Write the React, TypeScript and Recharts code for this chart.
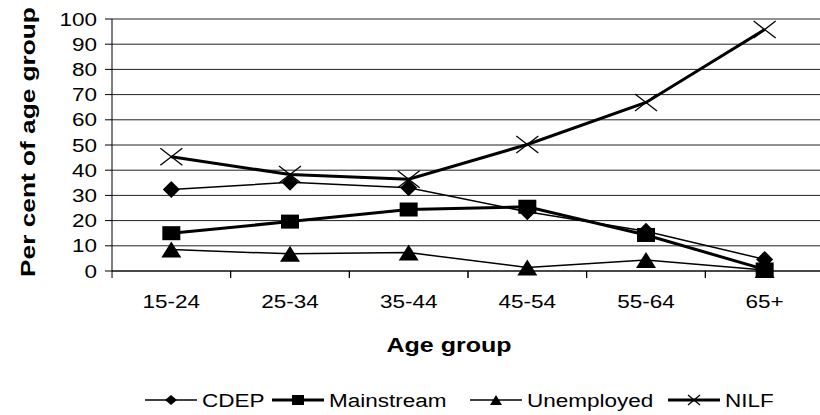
import React from 'react'
import { LineChart, Line, XAxis, YAxis, CartesianGrid, Legend } from 'recharts'

const ageGroups = ['15-24', '25-34', '35-44', '45-54', '55-64', '65+']
const cdep = [32.3, 35.2, 33.0, 23.5, 15.8, 4.6]
const mainstream = [15.0, 19.6, 24.4, 25.5, 14.3, 0.6]
const unemployed = [8.5, 6.8, 7.3, 1.4, 4.4, 0.4]
const nilf = [45.3, 38.3, 36.4, 50.2, 66.9, 95.8]
const yTicks = [0, 10, 20, 30, 40, 50, 60, 70, 80, 90, 100]

const data = ageGroups.map((g, i) => ({
  group: g,
  cdep: cdep[i],
  mainstream: mainstream[i],
  unemployed: unemployed[i],
  nilf: nilf[i],
}))

const FONT = 'Arial, "Liberation Sans", sans-serif'
const SX = 1.25 // text in the original is drawn wide
const HALF_BAND = 59.3

type Shape = 'diamond' | 'square' | 'triangle' | 'cross'

const series: { key: string; name: string; shape: Shape; width: number; lx: number }[] = [
  { key: 'cdep', name: 'CDEP', shape: 'diamond', width: 1.5, lx: 145 },
  { key: 'mainstream', name: 'Mainstream', shape: 'square', width: 3, lx: 272 },
  { key: 'unemployed', name: 'Unemployed', shape: 'triangle', width: 1.5, lx: 470 },
  { key: 'nilf', name: 'NILF', shape: 'cross', width: 3, lx: 668 },
]

// w/h are half sizes
function marker(shape: Shape, cx: number, cy: number, w: number, h: number, key?: string) {
  if (shape === 'diamond') {
    return <polygon key={key} points={`${cx},${cy - h} ${cx + w},${cy} ${cx},${cy + h} ${cx - w},${cy}`} fill="#000" />
  }
  if (shape === 'square') {
    return <rect key={key} x={cx - w} y={cy - h} width={w * 2} height={h * 2} fill="#000" />
  }
  if (shape === 'triangle') {
    return <polygon key={key} points={`${cx},${cy - h} ${cx + w},${cy + h} ${cx - w},${cy + h}`} fill="#000" />
  }
  return (
    <g key={key} stroke="#000" strokeWidth={1.3}>
      <line x1={cx - w} y1={cy - h} x2={cx + w} y2={cy + h} />
      <line x1={cx - w} y1={cy + h} x2={cx + w} y2={cy - h} />
    </g>
  )
}

const markerSize: Record<Shape, [number, number]> = {
  diamond: [8.5, 8.5],
  square: [9, 7],
  triangle: [10, 8],
  cross: [11, 8.5],
}

const WideText = ({ x, y, anchor = 'start', size, bold, rotate, children }: any) => (
  <text
    transform={`translate(${x},${y})${rotate ? ' rotate(-90)' : ''} scale(${SX},1)`}
    textAnchor={anchor}
    fontSize={size}
    fontWeight={bold ? 'bold' : 'normal'}
    fontFamily={FONT}
    fill="#000"
  >
    {children}
  </text>
)

const XTick = (props: any) => {
  const { x, y, payload } = props
  return (
    <g>
      <line x1={x - HALF_BAND} y1={y} x2={x - HALF_BAND} y2={y + 7} stroke="#000" />
      <line x1={x + HALF_BAND} y1={y} x2={x + HALF_BAND} y2={y + 7} stroke="#000" />
      <WideText x={x} y={y + 37} anchor="middle" size={18}>
        {payload.value}
      </WideText>
    </g>
  )
}

const YTick = (props: any) => {
  const { x, y, payload } = props
  return (
    <WideText x={x} y={y + 6.5} anchor="end" size={18}>
      {payload.value}
    </WideText>
  )
}

const YLabel = (props: any) => {
  const vb = props.viewBox || {}
  return (
    <WideText x={35} y={vb.y + vb.height / 2 - 3} anchor="middle" size={21} bold rotate>
      Per cent of age group
    </WideText>
  )
}

const XLabel = (props: any) => {
  const vb = props.viewBox || {}
  return (
    <WideText x={vb.x + vb.width / 2 - 19} y={vb.y + 81} anchor="middle" size={20} bold>
      Age group
    </WideText>
  )
}

const LegendContent = () => (
  <svg width={820} height={34} style={{ display: 'block' }}>
    {series.map((s) => (
      <g key={s.key}>
        <line x1={s.lx} y1={17} x2={s.lx + 52} y2={17} stroke="#000" strokeWidth={s.width} />
        {marker(s.shape, s.lx + 26, 17, 6, 5)}
        <WideText x={s.lx + 57} y={23.5} size={18}>
          {s.name}
        </WideText>
      </g>
    ))}
  </svg>
)

export default function App() {
  return (
    <div style={{ position: 'absolute', left: 0, top: 0, width: 820, height: 415, overflow: 'hidden', background: '#fff' }}>
      <LineChart width={830} height={415} data={data} margin={{ top: 19, right: 6, left: 0, bottom: 10 }}>
        <CartesianGrid vertical={false} stroke="#222" strokeWidth={1} />
        <XAxis
          dataKey="group"
          scale="band"
          axisLine={{ stroke: '#000' }}
          tickLine={false}
          tickSize={0}
          tickMargin={0}
          tick={<XTick />}
          height={100}
          interval={0}
          label={XLabel}
        />
        <YAxis
          domain={[0, 100]}
          ticks={yTicks}
          interval={0}
          width={112}
          axisLine={{ stroke: '#000' }}
          tickLine={{ stroke: '#000' }}
          tickSize={7}
          tickMargin={8}
          tick={<YTick />}
          label={YLabel}
        />
        <Legend verticalAlign="bottom" height={34} wrapperStyle={{ left: 0, width: 820, top: 383 }} content={<LegendContent />} />
        {series.map((s) => (
          <Line
            key={s.key}
            type="linear"
            dataKey={s.key}
            name={s.name}
            stroke="#000"
            strokeWidth={s.width}
            dot={(p: any) => marker(s.shape, p.cx, p.cy, markerSize[s.shape][0], markerSize[s.shape][1], `${s.key}-${p.index}`)}
            activeDot={false}
            isAnimationActive={false}
          />
        ))}
      </LineChart>
    </div>
  )
}
